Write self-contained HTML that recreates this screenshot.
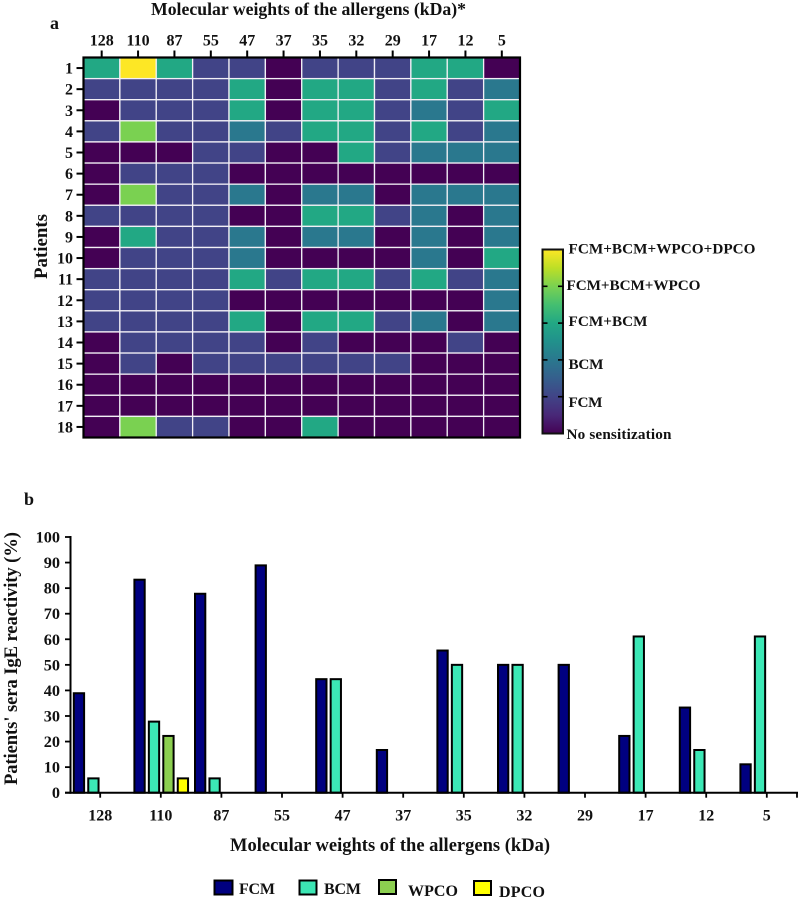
<!DOCTYPE html>
<html lang="en">
<head>
<meta charset="utf-8">
<title>Allergen sensitization heatmap and IgE reactivity</title>
<style>
html,body{margin:0;padding:0;background:#fff;width:799px;height:902px;overflow:hidden}
svg{display:block;filter:blur(0.35px)}
text{font-family:"Liberation Serif",serif;font-weight:700;fill:#111}
</style>
</head>
<body>
<svg id="fig" xmlns="http://www.w3.org/2000/svg" width="799" height="902" viewBox="0 0 799 902">
  <defs>
    <linearGradient id="viridis" x1="0" y1="1" x2="0" y2="0">
      <stop offset="0" stop-color="#440154"/><stop offset="0.1" stop-color="#482878"/>
      <stop offset="0.2" stop-color="#414487"/><stop offset="0.3" stop-color="#355f8d"/>
      <stop offset="0.4" stop-color="#2a788e"/><stop offset="0.5" stop-color="#21918c"/>
      <stop offset="0.6" stop-color="#22a884"/><stop offset="0.7" stop-color="#44bf70"/>
      <stop offset="0.8" stop-color="#7ad151"/><stop offset="0.9" stop-color="#bddf26"/>
      <stop offset="1" stop-color="#fde725"/>
    </linearGradient>
  </defs>
  <text x="50" y="29" font-size="18">a</text>
  <text x="151" y="15" font-size="17.7" textLength="315" lengthAdjust="spacing">Molecular weights of the allergens (kDa)*</text>
  <text transform="translate(47,279) rotate(-90)" font-size="18.9" textLength="65" lengthAdjust="spacing">Patients</text>
  <text x="24" y="505" font-size="18">b</text>
  <text transform="translate(17,785) rotate(-90)" font-size="18.6" textLength="253" lengthAdjust="spacing">Patients' sera IgE reactivity (%)</text>
  <text x="230" y="851" font-size="18.5" textLength="320" lengthAdjust="spacing">Molecular weights of the allergens (kDa)</text>
  <g id="heat"></g>
  <g id="cbar"></g>
  <g id="bars"></g>
  <g>
    <g>
      <rect x="214.5" y="880.5" width="18" height="14" fill="#000080" stroke="#000" stroke-width="2"/>
      <text x="239" y="894" font-size="16" textLength="36" lengthAdjust="spacing">FCM</text>
    </g>
    <g>
      <rect x="299.5" y="880.5" width="17" height="14" fill="#3ce6b4" stroke="#000" stroke-width="2"/>
      <text x="324" y="894" font-size="16" textLength="37" lengthAdjust="spacing">BCM</text>
    </g>
    <g>
      <rect x="379" y="880" width="17" height="14" fill="#8ccf50" stroke="#000" stroke-width="2"/>
      <text x="408" y="896" font-size="16" textLength="50" lengthAdjust="spacing">WPCO</text>
    </g>
    <g>
      <rect x="474" y="881" width="17" height="14" fill="#ffff00" stroke="#000" stroke-width="2"/>
      <text x="499" y="897" font-size="16" textLength="46" lengthAdjust="spacing">DPCO</text>
    </g>
  </g>
</svg>
<script>
const heatColumns = ["128","110","87","55","47","37","35","32","29","17","12","5"];
const heatRows = ["1","2","3","4","5","6","7","8","9","10","11","12","13","14","15","16","17","18"];
const heatLevels = [
  [3,5,3,1,1,0,1,1,1,3,3,0],
  [1,1,1,1,3,0,3,3,1,3,1,2],
  [0,1,1,1,3,0,3,3,1,2,1,3],
  [1,4,1,1,2,1,3,3,1,3,1,2],
  [0,0,0,1,1,0,0,3,1,2,2,2],
  [0,1,1,1,0,0,0,0,0,0,0,0],
  [0,4,1,1,2,0,2,2,0,2,2,2],
  [1,1,1,1,0,0,3,3,1,2,0,2],
  [0,3,1,1,2,0,2,2,0,2,0,2],
  [0,1,1,1,2,0,0,0,0,2,0,3],
  [1,1,1,1,3,1,3,3,1,3,1,2],
  [1,1,1,1,0,0,0,0,0,0,0,2],
  [1,1,1,1,3,0,3,3,1,2,0,2],
  [0,1,1,1,1,0,1,0,0,0,1,0],
  [0,1,0,1,1,1,1,1,1,0,0,0],
  [0,0,0,0,0,0,0,0,0,0,0,0],
  [0,0,0,0,0,0,0,0,0,0,0,0],
  [0,4,1,1,0,0,3,0,0,0,0,0]
];
const levelColors = ["#440154","#414487","#2a788e","#22a884","#7ad151","#fde725"];
const colorbarLevels = [1,2,3,4];
const colorbarLabels = ["No sensitization","FCM","BCM","FCM+BCM","FCM+BCM+WPCO","FCM+BCM+WPCO+DPCO"];
const barCategories = ["128","110","87","55","47","37","35","32","29","17","12","5"];
const fcmValues  = [38.9,83.3,77.8,88.9,44.4,16.7,55.6,50,50,22.2,33.3,11.1];
const bcmValues  = [5.6,27.8,5.6,0,44.4,0,50,50,0,61.1,16.7,61.1];
const wpcoValues = [0,22.2,0,0,0,0,0,0,0,0,0,0];
const dpcoValues = [0,5.6,0,0,0,0,0,0,0,0,0,0];
const yTicks = [0,10,20,30,40,50,60,70,80,90,100];

const NS = "http://www.w3.org/2000/svg";
function mk(parent, tag, attrs, txt) {
  const e = document.createElementNS(NS, tag);
  for (const k in attrs) e.setAttribute(k, attrs[k]);
  if (txt !== undefined) e.textContent = txt;
  parent.appendChild(e);
  return e;
}

/* ---------- heatmap ---------- */
const heat = document.getElementById("heat");


const hL = 83.5, hT = 57.5, hW = 436.5, hH = 380;
const colX = i => hL + hW * i / heatColumns.length;
const rowY = j => hT + hH * j / heatRows.length;

heatRows.forEach((r, j) => {
  heatColumns.forEach((c, i) => {
    const cell = mk(heat, "rect", {x: colX(i), y: rowY(j), width: hW / heatColumns.length, height: hH / heatRows.length,
      fill: levelColors[heatLevels[j][i]], stroke: "#f2f0f6", "stroke-width": 1.3});
    
    
  });
});
heatColumns.forEach((c, i) => {
  const x = colX(i + 0.5);
  const t = mk(heat, "line", {x1: x, x2: x, y1: 50.5, y2: 57, stroke: "#000", "stroke-width": 2});
  
  
  const l = mk(heat, "text", {x: x, y: 45.5, "font-size": 16, "text-anchor": "middle"}, c);
  
  
});
heatRows.forEach((r, j) => {
  const y = rowY(j + 0.5);
  const t = mk(heat, "line", {x1: 76.5, x2: 83, y1: y, y2: y, stroke: "#000", "stroke-width": 2});
  
  
  const l = mk(heat, "text", {x: 73, y: y + 5.5, "font-size": 16, "text-anchor": "end"}, r);
  
  
});
const frame = mk(heat, "rect", {x: hL, y: hT, width: hW, height: hH, fill: "none", stroke: "#000", "stroke-width": 2.2});



/* ---------- colour bar ---------- */
const cbar = document.getElementById("cbar");


const cL = 542.5, cT = 249.5, cW = 20.5, cH = 184;
const cY = v => cT + cH * (1 - v / (colorbarLabels.length - 1));
const grad = mk(cbar, "rect", {x: cL, y: cT, width: cW, height: cH, fill: "url(#viridis)", stroke: "#111", "stroke-width": 2});


colorbarLevels.forEach(v => {
  const a = mk(cbar, "line", {x1: cL, x2: cL + 5, y1: cY(v), y2: cY(v), stroke: "#000", "stroke-width": 1.6});
  
  
  const b = mk(cbar, "line", {x1: cL + cW - 5, x2: cL + cW + 0.5, y1: cY(v), y2: cY(v), stroke: "#000", "stroke-width": 1.6});
  
  
});
const cbLabelX = [566.5, 568.5, 568.5, 568.5, 566.5, 568.5];
const cbLabelY = [439, 407, 369, 326, 290, 253.5];
const cbLabelW = [105, 34, 35, 79, 134, 187];
colorbarLabels.forEach((s, i) => {
  const l = mk(cbar, "text", {x: cbLabelX[i], y: cbLabelY[i], "font-size": 15.2, textLength: cbLabelW[i], lengthAdjust: "spacing"}, s);
  
  
});

/* ---------- bar chart ---------- */
const bars = document.getElementById("bars");


const yBase = 792.7, yTop = 537, axisL = 70.5, axisR = 797;
const valueY = v => yBase - (yBase - yTop) * v / 100;
const groupW = 60.6;
const groupX = i => 73.3 + groupW * i;
const catX = i => 100.2 + groupW * i;
const barSeries = [
  {name: "fcm", values: fcmValues, color: "#000080"},
  {name: "bcm", values: bcmValues, color: "#3ce8b6"},
  {name: "wpco", values: wpcoValues, color: "#8ccf50"},
  {name: "dpco", values: dpcoValues, color: "#ffff00"}
];
barSeries.forEach((s, k) => {
  s.values.forEach((v, i) => {
    if (v <= 0) return;
    const x = groupX(i) + 14.45 * k + 0.5;
    const y = valueY(v);
    const b = mk(bars, "rect", {x: x, y: y, width: 10.3, height: yBase - y, fill: s.color, stroke: "#000", "stroke-width": 2});
    
    
  });
});
const yAxis = mk(bars, "line", {x1: axisL, x2: axisL, y1: yTop - 1, y2: yBase + 1, stroke: "#000", "stroke-width": 2});


const xAxis = mk(bars, "line", {x1: 65, x2: axisR + 1, y1: yBase, y2: yBase, stroke: "#000", "stroke-width": 2});


yTicks.forEach(v => {
  const y = valueY(v);
  const t = mk(bars, "line", {x1: 65, x2: axisL, y1: y, y2: y, stroke: "#000", "stroke-width": 1.8});
  
  
  const l = mk(bars, "text", {x: 60, y: y + 5.5, "font-size": 16.3, "text-anchor": "end"}, String(v));
  
  
});
barCategories.forEach((c, i) => {
  const x = catX(i);
  const t = mk(bars, "line", {x1: x, x2: x, y1: yBase, y2: yBase + 5, stroke: "#000", "stroke-width": 1.8});
  
  
  const l = mk(bars, "text", {x: x, y: 820.5, "font-size": 16, "text-anchor": "middle"}, c);
  
  
});
const endTick = mk(bars, "line", {x1: axisR, x2: axisR, y1: yBase, y2: yBase + 5, stroke: "#000", "stroke-width": 1.8});


</script>
</body>
</html>
